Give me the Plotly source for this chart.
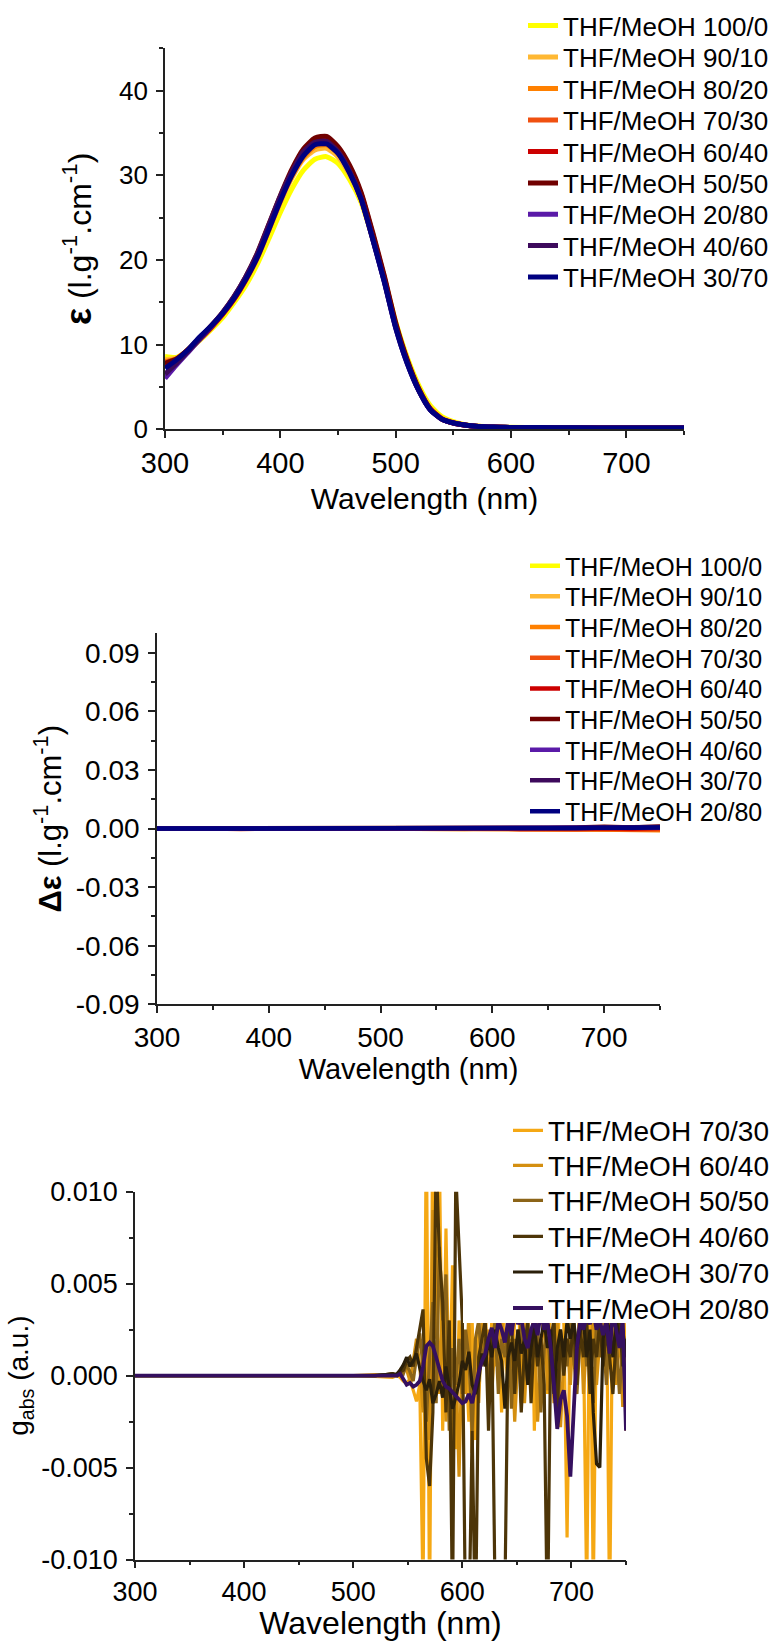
import plotly.graph_objects as go

FONT = "Liberation Sans, Arial, sans-serif"

# ---------------- Panel 1 : epsilon spectra ----------------
wl1 = [300, 310, 320, 330, 340, 350, 360, 370, 380, 390, 400, 410, 420, 430, 440,
       450, 460, 470, 480, 490, 500, 510, 520, 530, 540, 550, 560, 570, 580, 590,
       600, 625, 650, 700, 750]
names1 = ["THF/MeOH 100/0", "THF/MeOH 90/10", "THF/MeOH 80/20", "THF/MeOH 70/30",
          "THF/MeOH 60/40", "THF/MeOH 50/50", "THF/MeOH 20/80", "THF/MeOH 40/60",
          "THF/MeOH 30/70"]
colors1 = ["#FFFF00", "#FFB833", "#FF8000", "#F05010", "#CC0000", "#700000",
           "#5A1AA8", "#3D0A5C", "#000080"]
eps_100_0 = [8.6, 8.5, 9.3, 10.5, 11.8, 13.2, 15.0, 17.0, 19.5, 22.5, 25.6, 28.4, 30.6, 31.9, 32.2,
             31.4, 29.5, 26.8, 22.6, 17.9, 12.7, 8.5, 5.2, 2.8, 1.5, 0.9, 0.55, 0.38, 0.3, 0.26,
             0.23, 0.2, 0.18, 0.16, 0.15]
eps_90_10 = [8.2, 8.4, 9.4, 10.8, 12.1, 13.6, 15.4, 17.6, 20.2, 23.5, 26.8, 29.7, 31.9, 33.0, 33.2,
             32.2, 30.1, 27.1, 22.6, 17.7, 12.3, 8.1, 4.8, 2.5, 1.3, 0.8, 0.52, 0.36, 0.28, 0.24,
             0.22, 0.2, 0.18, 0.16, 0.15]
eps_80_20 = [8.0, 8.3, 9.4, 10.7, 12.1, 13.6, 15.4, 17.6, 20.2, 23.5, 26.9, 29.9, 32.1, 33.4, 33.6,
             32.6, 30.4, 27.3, 22.7, 17.7, 12.2, 8.0, 4.7, 2.4, 1.25, 0.78, 0.5, 0.35, 0.28, 0.24,
             0.22, 0.19, 0.17, 0.15, 0.14]
eps_70_30 = [7.9, 8.3, 9.4, 10.7, 12.1, 13.6, 15.4, 17.6, 20.3, 23.6, 27.0, 30.1, 32.5, 33.8, 34.0,
             32.9, 30.7, 27.5, 22.9, 17.9, 12.3, 8.0, 4.7, 2.4, 1.25, 0.76, 0.5, 0.35, 0.27, 0.23,
             0.21, 0.19, 0.17, 0.15, 0.14]
eps_60_40 = [7.6, 8.2, 9.3, 10.6, 12.0, 13.6, 15.4, 17.7, 20.4, 23.8, 27.2, 30.4, 32.8, 34.1, 34.3,
             33.2, 31.0, 27.8, 23.1, 18.0, 12.4, 8.1, 4.7, 2.4, 1.2, 0.74, 0.49, 0.34, 0.27, 0.23,
             0.21, 0.19, 0.17, 0.15, 0.14]
eps_50_50 = [7.8, 8.3, 9.4, 10.8, 12.2, 13.8, 15.7, 18.0, 20.8, 24.2, 27.6, 30.7, 33.1, 34.4, 34.6,
             33.4, 31.2, 28.0, 23.3, 18.2, 12.6, 8.2, 4.8, 2.4, 1.2, 0.72, 0.48, 0.34, 0.27, 0.23,
             0.21, 0.19, 0.17, 0.15, 0.14]
eps_20_80 = [6.0, 7.6, 9.1, 10.6, 12.1, 13.7, 15.6, 17.9, 20.6, 24.0, 27.4, 30.3, 32.6, 33.8, 33.9,
             32.7, 30.4, 27.2, 22.5, 17.5, 12.0, 7.8, 4.6, 2.3, 1.2, 0.74, 0.5, 0.35, 0.28, 0.24,
             0.22, 0.2, 0.18, 0.16, 0.15]
eps_40_60 = [6.5, 7.8, 9.2, 10.7, 12.2, 13.8, 15.7, 18.0, 20.7, 24.1, 27.5, 30.4, 32.8, 33.9, 34.0,
             32.8, 30.5, 27.3, 22.6, 17.6, 12.1, 7.9, 4.6, 2.3, 1.2, 0.74, 0.5, 0.35, 0.28, 0.24,
             0.22, 0.2, 0.18, 0.16, 0.15]
eps_30_70 = [7.2, 8.2, 9.4, 10.9, 12.2, 13.7, 15.5, 17.7, 20.3, 23.6, 27.0, 30.0, 32.3, 33.6, 33.7,
             32.6, 30.3, 27.2, 22.5, 17.5, 12.0, 7.8, 4.6, 2.3, 1.2, 0.75, 0.5, 0.35, 0.28, 0.24,
             0.22, 0.2, 0.18, 0.16, 0.15]
series1 = [eps_100_0, eps_90_10, eps_80_20, eps_70_30, eps_60_40, eps_50_50,
           eps_20_80, eps_40_60, eps_30_70]

# ---------------- Panel 2 : delta epsilon (x 1e-3) ----------------
wl2 = [300, 325, 350, 375, 400, 425, 450, 475, 500, 525, 550, 575, 600, 625, 650,
       675, 700, 725, 750]
names2 = ["THF/MeOH 100/0", "THF/MeOH 90/10", "THF/MeOH 80/20", "THF/MeOH 70/30",
          "THF/MeOH 60/40", "THF/MeOH 50/50", "THF/MeOH 40/60", "THF/MeOH 30/70",
          "THF/MeOH 20/80"]
colors2 = ["#FFFF00", "#FFB833", "#FF8000", "#F05010", "#CC0000", "#700000",
           "#5A1AA8", "#3D0A5C", "#000080"]
de_100_0 = [0, 0.1, -0.1, 0, 0.1, 0, -0.1, 0, 0.1, 0, -0.1, 0, 0.1, 0.2, 0, -0.2, 0.1, -0.3, 0.2]
de_90_10 = [0, -0.1, 0.1, 0, -0.1, 0.1, 0, -0.1, 0, 0.1, 0, -0.2, 0.1, 0, -0.3, -0.2, -0.4, -0.5, -0.6]
de_80_20 = [0.1, 0, -0.1, 0.1, 0, -0.1, 0.1, 0, -0.2, 0, 0.1, -0.1, -0.3, -0.2, -0.5, -0.3, -0.6, -0.4, -0.8]
de_70_30 = [0, 0.2, 0, -0.2, 0.1, 0, -0.1, -0.2, 0, -0.1, 0, 0.1, -0.2, -0.1, -0.3, -0.5, -0.2, -0.6, -0.3]
de_60_40 = [0, -0.1, 0, 0.1, -0.2, 0, -0.1, 0, 0.1, -0.2, 0, -0.1, 0.1, -0.2, 0, -0.3, 0.2, -0.1, 0.3]
de_50_50 = [0, 0, 0.1, 0, 0, -0.1, 0, 0.1, 0, 0, 0.1, 0, 0.2, 0.3, 0.4, 0.5, 0.9, 0.6, 1.0]
de_40_60 = [0, 0, -0.1, 0, 0, 0, 0.1, 0, -0.1, 0, 0, 0.1, 0, 0.2, 0.1, 0.3, 0.4, 0.7, 0.5]
de_30_70 = [0, 0, 0, 0.1, 0, 0, 0, -0.1, 0, 0, 0.1, 0, 0.1, 0.2, 0.3, 0.2, 0.5, 0.6, 0.8]
de_20_80 = [0, 0, 0, 0, 0, 0, 0, 0, 0, 0, 0, 0.1, 0.1, 0.2, 0.2, 0.3, 0.4, 0.4, 0.6]
series2_milli = [de_100_0, de_90_10, de_80_20, de_70_30, de_60_40, de_50_50,
                 de_40_60, de_30_70, de_20_80]

# ---------------- Panel 3 : g_abs (x 1e-3) ----------------
wl3 = [300, 400, 500, 520, 530, 536] + list(range(540, 751, 3))
names3 = ["THF/MeOH 70/30", "THF/MeOH 60/40", "THF/MeOH 50/50", "THF/MeOH 40/60",
          "THF/MeOH 30/70", "THF/MeOH 20/80"]
colors3 = ["#F5A814", "#D48F10", "#8C6418", "#4D3508", "#2A1F0A", "#35105F"]
widths3 = [3.2, 3.2, 3.2, 3.2, 3.2, 3.8]
g_70_30 = [0, 0, 0, -0.05, -0.1, -0.1,
           0, -0.1, -0.3, -0.4, -0.2, -0.8, -1.4, -0.5, -12, 14, -13, 15, 2, 12, -3, 8, -2, 6, -4, 3,
           -1, 1, -2.5, 3, -3.5, 2.5, 1, 4, -1.5, 3, 0.5, 4, -2, 5, 2, -0.5, 3, 6, -1.5, 4,
           2, 8, -3, 5, 3, 9, -1, 4, 6, 1, 5, 3, -8.8, 4, 6, 3, 9, 2, -12, 7,
           -12, 4, 8, 3, 5, -13, 6, 4, 2, 8, -3]
g_60_40 = [0, 0, 0, 0.05, 0, 0.1,
           0, 0.2, 0.5, 0.3, -0.3, 0.8, 2, 0.5, -2, 1.5, -3.5, 9, 6, -1, 4, -2.5, 3, -4.5, 1, -5.5,
           2, -1, 3.5, -4.2, 2, -1.5, 3, 1, 2.5, -1, 2, 0.5, 3, 1.5, -0.5, 2, -2.5, 1, 3, -1.5,
           2, 0.5, 3, -2.5, 1, 4, -0.8, 2, -1.5, 3, -2.8, 1, 2, -0.5, 3, 1, 4, -1, 2, 1.5,
           3, -0.5, 2, 4, 1, 3, 2, -0.5, 3, -1.7, 2]
g_50_50 = [0, 0, 0, 0, 0.05, 0.1,
           0, 0.3, 0.1, 0.6, 0.2, -0.3, 1, 2.3, 0.4, -2.5, 1, 4, -1.5, 7, 3, 5.5, -3, 1.5, -0.5, 2,
           -1, 2.5, 1, -3, 2, 3, 0.5, 2, -0.5, 1.5, 3, -1, 2, 1, 3, -1.8, 2, 0.5, 3, 1,
           -0.5, 2.5, 1, 3, -2, 1.5, 2.5, 0, 3, -2.5, 1, 2, 0.5, 3, 1, -1, 2, 3, 0.5, 2,
           -1.5, 3, 1, 2.5, -0.5, 3, 1.5, 2, -1, 1.5, 0.5]
g_40_60 = [0, 0, 0, 0, 0.05, 0.1,
           0, 0.2, 0.3, 0.8, 1, 0.5, 1.5, 2.5, 3.6, -4.5, -6, -2, 12, 6.5, 4, -2, 3, -13, 11, 7,
           3, -14, -14, -3, -14, 1, 2, 3, -3, 2.5, -12, -13, -14, -12, 2, 3, -1, 2.5, -2, 1.5,
           3, -1.5, 2.5, 0.5, 2, -0.5, -14, 2, 3, -2, 2.5, 0, 2, 1, 3, -0.5, 2.5, 1, 3, -1,
           2, 1, 3, 0.5, 2.5, 1, -1, 2, 3, 0.5, 2]
g_30_70 = [0, 0, 0, 0, 0.05, 0.1,
           0.1, 0.3, 0.6, 1, 0.5, 0.8, 1.2, 0.4, -0.3, -0.8, -0.2, -1.5, -1, -0.3, -1.2, 0.5, -0.6, -1.8, -1.2, -0.4,
           0.8, 0.3, 1.3, -0.5, -1, -0.3, 1.2, 0.5, 2, 1, 2.5, 1.5, 0.8, -1.8, 1, 1.8, 0.8, 2.5, 1.2, 2,
           -0.5, 1.5, 2.8, 1, 2, 3, 1.5, 2.5, -1, 1.5, 2.5, 1, 3, 2, 3, 1.5, 2.5, 3, 1, 2.5,
           -2, -4.8, -5, 2, 3, 2.5, 1, 3, 2, 2.5, 1]
g_20_80 = [0, 0, 0, 0, 0, 0.05,
           0, 0.1, -0.2, -0.5, -0.4, -0.6, -0.5, -0.3, 0.5, 1.6, 1.8, 1.6, 1.0, 0.4, -0.3, -0.6, -0.7, -0.9, -1.1, -1.3,
           -1.5, -1.4, -1.0, -1.5, -0.6, 0.2, 0.8, 1.2, 2.0, 2.6, 1.5, 3.0, 2.5, 1.8, 3, 2.2, 3.5, 2.8, 3.2, 2.0,
           1.5, 2.5, 3, 2.2, 3.5, 2.5, 3, 1.5, -0.5, -2.9, -1.3, -0.8, -2.2, -5.5, -2, 1.5, 3, 2.5, 3.2, 2.8,
           3.5, 2.5, 3, 2.2, 3, 1.2, 3.5, 2.5, 1.5, 3, -3]
series3_milli = [g_70_30, g_60_40, g_50_50, g_40_60, g_30_70, g_20_80]

# tick labels
x_ticks = [300, 400, 500, 600, 700]
x_ticktext = ["300", "400", "500", "600", "700"]
y1_ticks = [0, 10, 20, 30, 40]
y1_ticktext = ["0", "10", "20", "30", "40"]
y2_ticks = [-0.09, -0.06, -0.03, 0.0, 0.03, 0.06, 0.09]
y2_ticktext = ["-0.09", "-0.06", "-0.03", "0.00", "0.03", "0.06", "0.09"]
y3_ticks = [-0.010, -0.005, 0.0, 0.005, 0.010]
y3_ticktext = ["-0.010", "-0.005", "0.000", "0.005", "0.010"]

H = 1641.0
W = 776.0

# legend layout (pixel rows of entry centres)
leg1_rows = [25.7, 57.1, 88.7, 120.0, 151.7, 183.0, 214.3, 245.7, 277.0]
leg2_rows = [566.0, 596.4, 627.2, 658.0, 688.8, 719.2, 750.0, 780.5, 811.6]
leg3_rows = [1130.7, 1165.7, 1200.7, 1236.7, 1272.3, 1308.3]

fig = go.Figure()
legends = {}
k = 0


def leg_id(i):
    return "legend" if i == 1 else "legend%d" % i


def add_leg(row, left_px, size):
    global k
    k += 1
    lid = leg_id(k)
    legends[lid] = dict(x=left_px / W, y=1 - row / H, xanchor="left", yanchor="middle",
                        bgcolor="rgba(0,0,0,0)", borderwidth=0, visible=True,
                        font=dict(size=size, color="#000", family=FONT))
    return lid


for name, col, ys, row in zip(names1, colors1, series1, leg1_rows):
    lid = add_leg(row, 523, 26)
    fig.add_trace(go.Scatter(x=wl1, y=ys, name=name, mode="lines", showlegend=True,
                             line=dict(color=col, width=5, shape="spline", smoothing=0.6),
                             xaxis="x", yaxis="y", legend=lid))
for name, col, ys, row in zip(names2, colors2, series2_milli, leg2_rows):
    lid = add_leg(row, 525, 25)
    fig.add_trace(go.Scatter(x=wl2, y=[v * 1e-3 for v in ys], name=name, mode="lines",
                             showlegend=True, line=dict(color=col, width=4.5),
                             xaxis="x2", yaxis="y2", legend=lid))
for name, col, ys, row, lw in zip(names3, colors3, series3_milli, leg3_rows, widths3):
    lid = add_leg(row, 508, 28)
    fig.add_trace(go.Scatter(x=wl3, y=[v * 1e-3 for v in ys], name=name, mode="lines",
                             showlegend=True, line=dict(color=col, width=lw),
                             xaxis="x3", yaxis="y3", legend=lid))

AX = "#222222"


def xax(domain, anchor, tsize, title, tfs, standoff):
    return dict(domain=domain, anchor=anchor, range=[300, 750], showline=True, linecolor=AX,
                linewidth=1.6, ticks="outside", ticklen=7, tickwidth=1.6, tickcolor=AX,
                tickmode="array", tickvals=x_ticks, ticktext=x_ticktext, automargin=False,
                tickfont=dict(size=tsize, color="#000", family=FONT),
                minor=dict(tickmode="linear", tick0=350, dtick=100, ticks="outside",
                           ticklen=4, tickwidth=1.6, tickcolor=AX),
                showgrid=False, zeroline=False,
                title=dict(text=title, font=dict(size=tfs, color="#000", family=FONT),
                           standoff=standoff))


def yax(domain, anchor, rng, tv, tt, mt0, mdt, tsize, title, tfs, standoff):
    return dict(domain=domain, anchor=anchor, range=rng, showline=True, linecolor=AX,
                linewidth=1.6, ticks="outside", ticklen=7, tickwidth=1.6, tickcolor=AX,
                tickmode="array", tickvals=tv, ticktext=tt, automargin=False,
                ticklabelstandoff=3,
                tickfont=dict(size=tsize, color="#000", family=FONT),
                minor=dict(tickmode="linear", tick0=mt0, dtick=mdt, ticks="outside",
                           ticklen=4, tickwidth=1.6, tickcolor=AX),
                showgrid=False, zeroline=False,
                title=dict(text=title, font=dict(size=tfs, color="#000", family=FONT),
                           standoff=standoff))


# white box behind the g_abs legend (as in the reference, it hides the curves)
fig.add_shape(type="rect", xref="paper", yref="paper", layer="above",
              x0=463 / W, x1=1.0, y0=1 - 1323 / H, y1=1 - 1110 / H,
              fillcolor="white", line=dict(width=0))

fig.update_layout(
    width=776, height=1641, autosize=False, showlegend=True,
    margin=dict(l=0, r=0, t=0, b=0, autoexpand=False),
    paper_bgcolor="white", plot_bgcolor="white",
    font=dict(family=FONT, color="#000"),
    xaxis=xax([165 / W, 684 / W], "y", 29, "Wavelength (nm)", 30, 10),
    yaxis=yax([1 - 429.3 / H, 1 - 48.3 / H], "x", [0, 45], y1_ticks, y1_ticktext, 5, 10,
              26, "<b><span style='font-size:36px'>ε</span></b> (l.g<sup>-1</sup>.cm<sup>-1</sup>)",
              32, 18),
    xaxis2=xax([157 / W, 660 / W], "y2", 28, "Wavelength (nm)", 29, 0),
    yaxis2=yax([1 - 1004.3 / H, 1 - 633.3 / H], "x2", [-0.09, 0.1], y2_ticks, y2_ticktext,
               -0.075, 0.03, 28, "<b>Δε</b> (l.g<sup>-1</sup>.cm<sup>-1</sup>)", 31, 5),
    xaxis3=xax([135 / W, 626 / W], "y3", 27, "Wavelength (nm)", 32, 12),
    yaxis3=yax([1 - 1559.5 / H, 1 - 1191.7 / H], "x3", [-0.01, 0.01], y3_ticks, y3_ticktext,
               -0.0075, 0.005, 27, "g<sub>abs</sub> (a.u.)", 28, 4),
    **legends,
)

fig.write_html("out.html")
